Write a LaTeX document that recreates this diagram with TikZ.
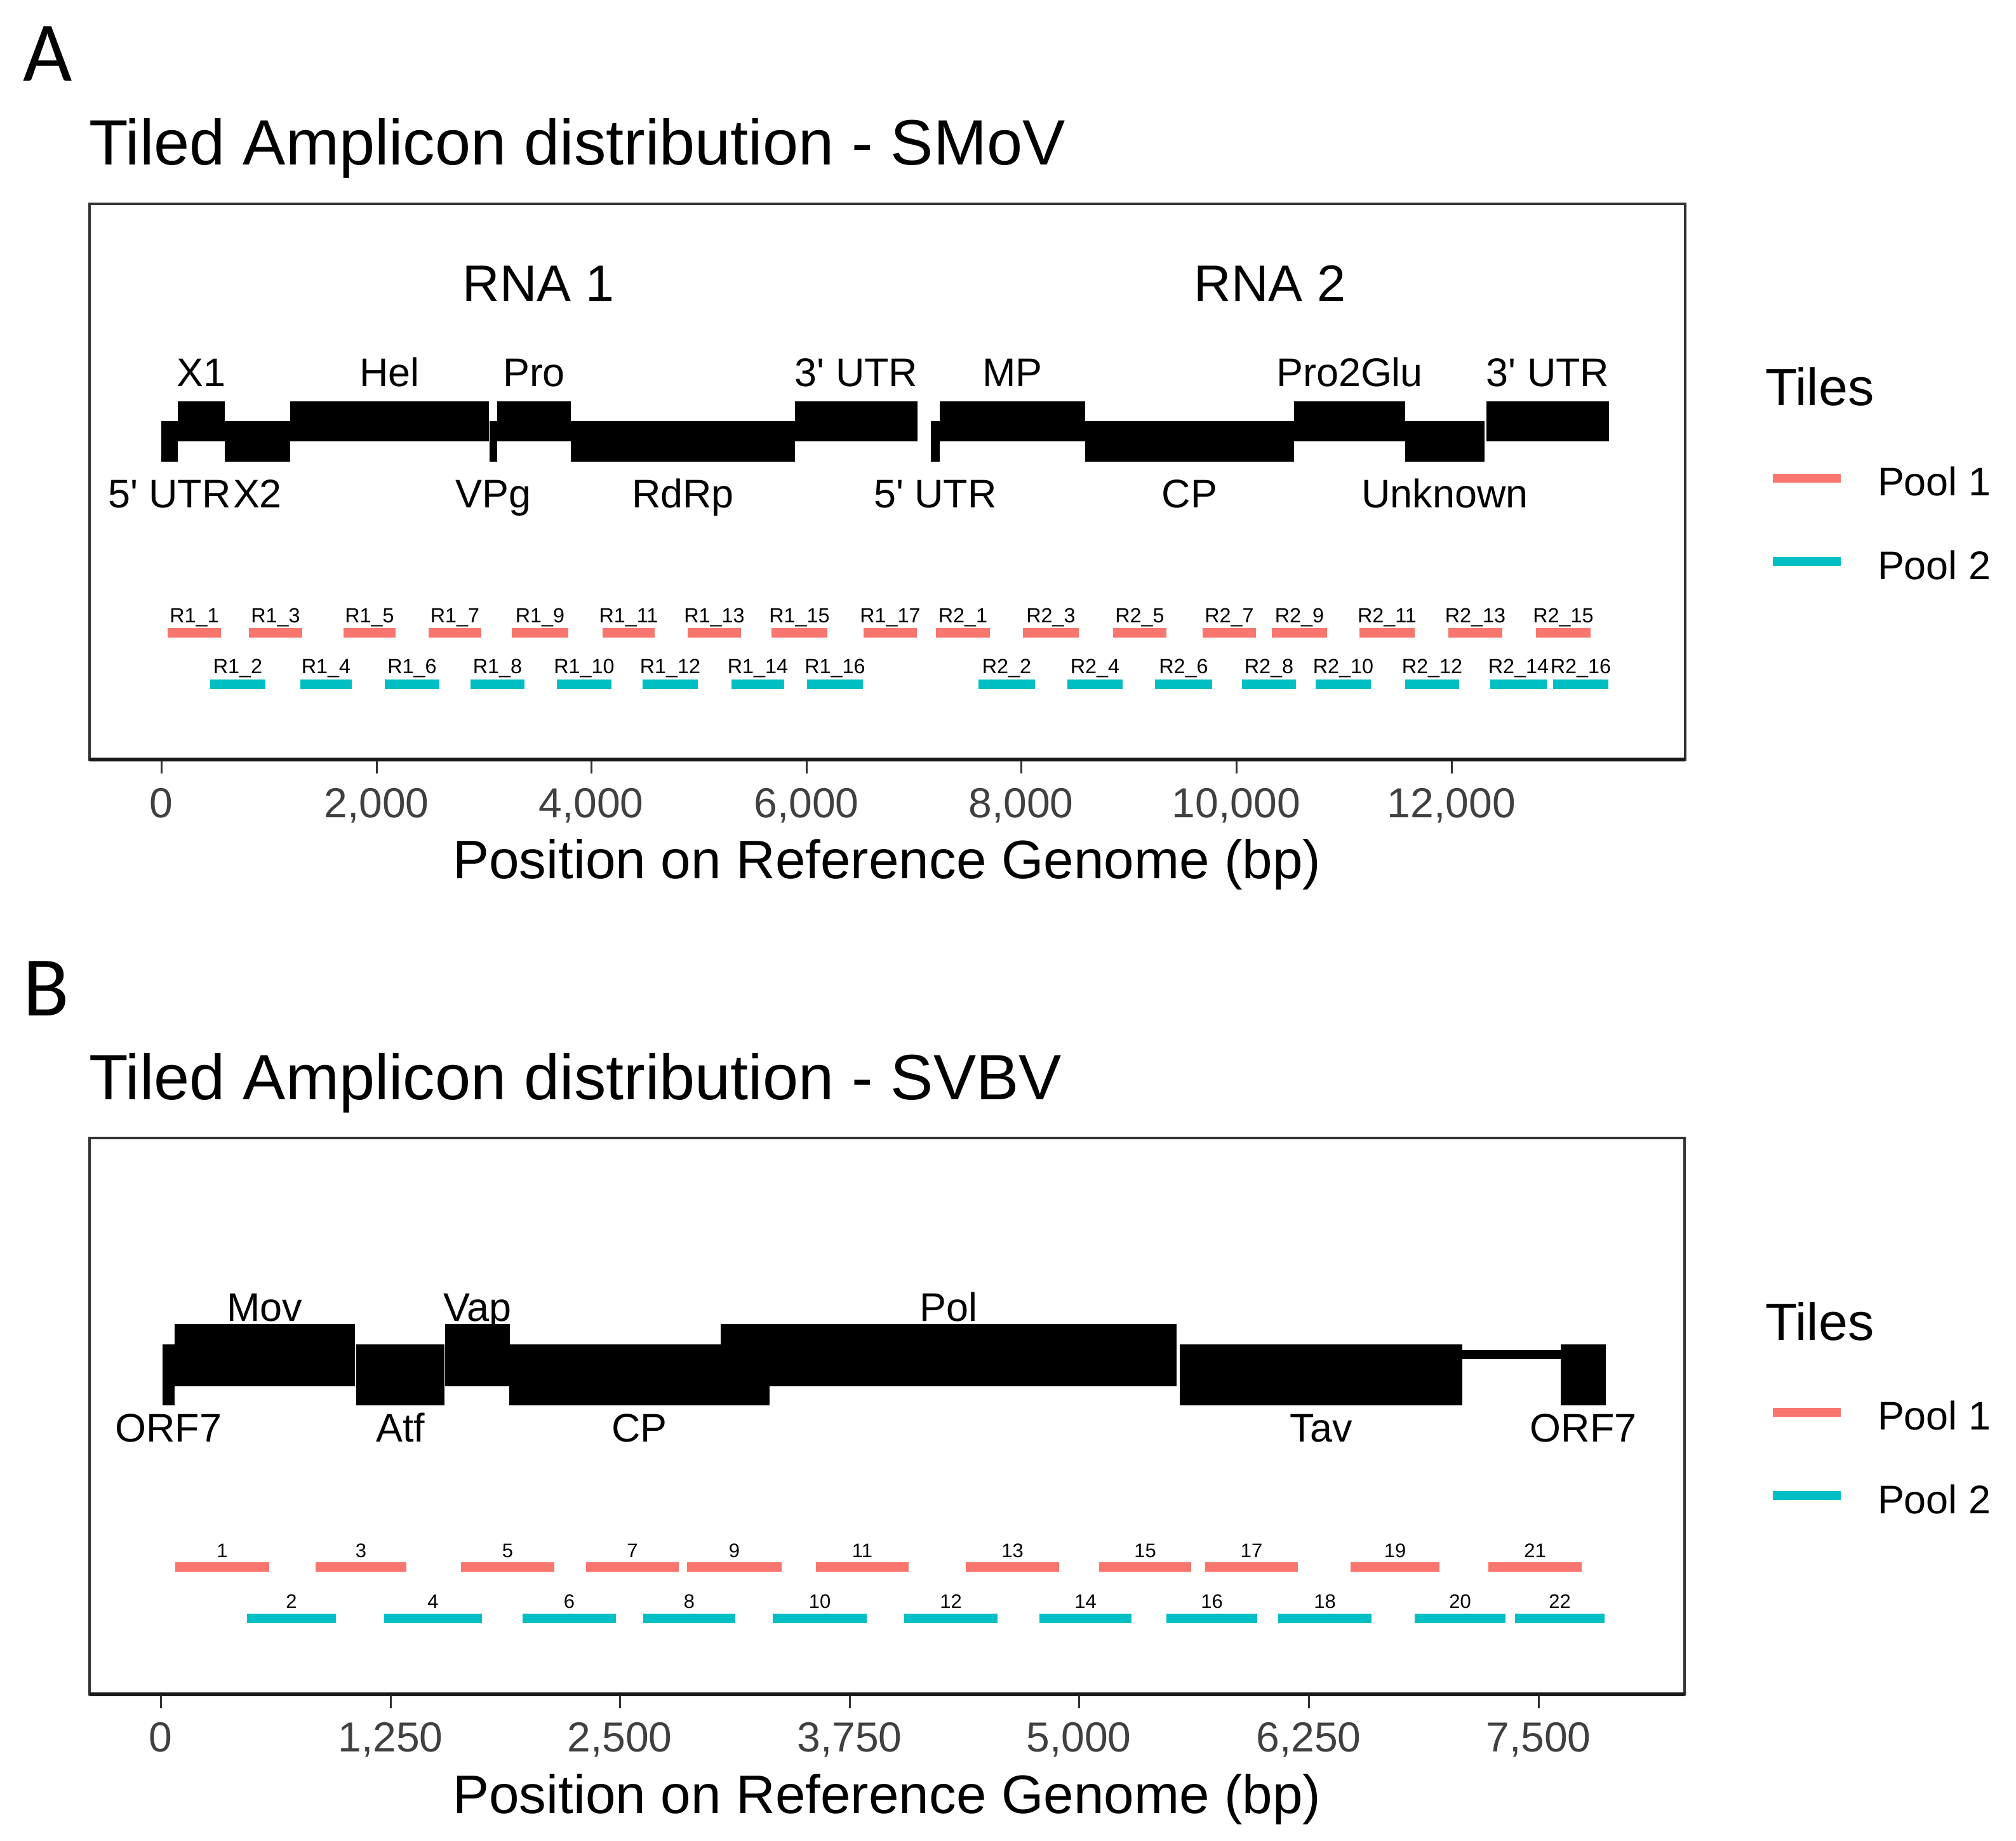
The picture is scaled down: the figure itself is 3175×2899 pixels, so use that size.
\documentclass[tikz,border=0pt]{standalone}
\usepackage{fontspec}
\setmainfont{Liberation Sans}
\newfontfamily\letterfont{Carlito}
\usetikzlibrary{positioning}

\definecolor{poolred}{HTML}{F8766D}
\definecolor{poolcyan}{HTML}{00BFC4}
\definecolor{framegrey}{HTML}{333333}

\tikzset{
  every node/.style={inner sep=0pt, outer sep=0pt},
  panelletter/.style={anchor=base west, font=\letterfont\fontsize{38}{44}\selectfont},
  plottitle/.style={anchor=base west, font=\fontsize{28.7}{34}\selectfont},
  rnalab/.style={anchor=base, font=\fontsize{23}{28}\selectfont},
  genelab/.style={anchor=base, font=\fontsize{17.9}{21}\selectfont},
  genebox/.style={fill=black},
  tilelab/.style={anchor=base, font=\fontsize{9.2}{11}\selectfont},
  tilenum/.style={anchor=base, font=\fontsize{8.8}{10}\selectfont},
  poolone/.style={fill=poolred},
  pooltwo/.style={fill=poolcyan},
  panelframe/.style={draw=framegrey, line width=0.4mm},
  axisline/.style={draw=black!90, line width=0.6mm},
  tickmark/.style={draw=framegrey, line width=0.3mm},
  ticklab/.style={anchor=base, font=\fontsize{18.8}{22}\selectfont, text=black!75},
  axistitle/.style={anchor=base, font=\fontsize{24.3}{29}\selectfont},
  legtitle/.style={anchor=base west, font=\fontsize{23.5}{28}\selectfont},
  legtext/.style={anchor=base west, font=\fontsize{17.9}{21}\selectfont},
  legkey/.style={line width=1.4mm}
}

\begin{document}
\begin{tikzpicture}[x=0.1mm, y=-0.1mm]
  \useasboundingbox (0,0) rectangle (3175,2899);

  % ---------------- panel A : SMoV ----------------
  \node (letterA) [panelletter] at (37,128) {A};
  \node (titleA) [plottitle] at (140,260) {Tiled Amplicon distribution - SMoV};
  \draw[panelframe] (141,321) rectangle (2654,1196);
  \node (rna1) [rnalab] at (848,475) {RNA 1};
  \node (rna2) [rnalab] at (2000,475) {RNA 2};

  % genes, upper row
  \foreach \a/\b/\g [count=\i] in {280/354/X1, 457/770/Hel, 783/899/Pro, 1252/1445/{3\textquotesingle{} UTR},
      1480/1709/MP, 2038/2213/Pro2Glu, 2341/2534/{3\textquotesingle{} UTR}} {
    \fill[genebox] (\a,632) rectangle (\b,695);
    \node (ga-up-\i) [genelab] at ({(\a+\b)/2},609) {\g};
  }
  % genes, lower row
  \foreach \a/\b/\g [count=\i] in {254/280/{5\textquotesingle{} UTR}, 354/457/X2, 771/783/VPg, 899/1252/RdRp,
      1466/1480/{5\textquotesingle{} UTR}, 1709/2038/CP, 2213/2338/Unknown} {
    \fill[genebox] (\a,663) rectangle (\b,727);
    \node (ga-low-\i) [genelab] at ({(\a+\b)/2},800) {\g};
  }

  % tiles
  \foreach \a/\b/\k in {264/348/1, 392/476/3, 541/623/5, 675/758/7, 806/895/9, 949/1031/11, 1083/1167/13,
      1215/1303/15, 1360/1444/17} {
    \fill[poolone] (\a,989) rectangle (\b,1004);
    \node (ta-r1-\k) [tilelab] at ({(\a+\b)/2},980) {R1\_\k};
  }
  \foreach \a/\b/\k in {331/418/2, 473/554/4, 606/692/6, 741/826/8, 877/963/10, 1012/1099/12, 1152/1235/14,
      1271/1359/16} {
    \fill[pooltwo] (\a,1070) rectangle (\b,1085);
    \node (ta-r1-\k) [tilelab] at ({(\a+\b)/2},1060) {R1\_\k};
  }
  \foreach \a/\b/\k in {1474/1559/1, 1611/1699/3, 1753/1837/5, 1894/1978/7, 2003/2090/9, 2141/2228/11,
      2281/2366/13, 2419/2505/15} {
    \fill[poolone] (\a,989) rectangle (\b,1004);
    \node (ta-r2-\k) [tilelab] at ({(\a+\b)/2},980) {R2\_\k};
  }
  \foreach \a/\b/\k in {1541/1630/2, 1681/1768/4, 1819/1909/6, 1956/2041/8, 2072/2159/10, 2213/2298/12,
      2347/2436/14, 2446/2533/16} {
    \fill[pooltwo] (\a,1070) rectangle (\b,1085);
    \node (ta-r2-\k) [tilelab] at ({(\a+\b)/2},1060) {R2\_\k};
  }

  % x axis
  \draw[axisline] (141,1196) -- (2654,1196);
  \foreach \x/\lab [count=\i] in {254/0, 593/{2,000}, 931/{4,000}, 1270/{6,000}, 1608/{8,000},
      1947/{10,000}, 2286/{12,000}} {
    \draw[tickmark] (\x,1198) -- (\x,1218);
    \node (tka-\i) [ticklab] at (\x,1287) {\lab};
  }
  \node (xtitleA) [axistitle] at (1397,1383) {Position on Reference Genome (bp)};

  % legend
  \node (tilesA) [legtitle] at (2780,639) {Tiles};
  \draw[legkey, poolred] (2792,753) -- (2899,753);
  \node (poolA1) [legtext] at (2957,780) {Pool 1};
  \draw[legkey, poolcyan] (2792,884) -- (2899,884);
  \node (poolA2) [legtext] at (2957,912) {Pool 2};

  % ---------------- panel B : SVBV ----------------
  \begin{scope}[shift={(0,1471)}]
    \node (letterB) [panelletter] at (37,128) {B};
    \node (titleB) [plottitle] at (140,260) {Tiled Amplicon distribution - SVBV};
    \draw[panelframe] (141,321) rectangle (2653,1197);

    % genes
    \fill[genebox] (2303,655) rectangle (2458,669);
    \foreach \a/\b/\g [count=\i] in {275/559/Mov, 701/803/Vap, 1135/1853/Pol} {
      \fill[genebox] (\a,614) rectangle (\b,712);
      \node (gb-up-\i) [genelab] at ({(\a+\b)/2},609) {\g};
    }
    \foreach \a/\b/\g [count=\i] in {256/275/ORF7, 561/700/Atf, 802/1212/CP, 1858/2303/Tav, 2458/2529/ORF7} {
      \fill[genebox] (\a,646) rectangle (\b,742);
      \node (gb-low-\i) [genelab] at ({(\a+\b)/2},799) {\g};
    }

    % tiles
    \foreach \a/\b/\k in {276/424/1, 497/640/3, 726/873/5, 923/1069/7, 1082/1231/9, 1285/1431/11,
        1521/1668/13, 1731/1876/15, 1898/2044/17, 2127/2267/19, 2344/2491/21} {
      \fill[poolone] (\a,989) rectangle (\b,1004);
      \node (tb-\k) [tilenum] at ({(\a+\b)/2},981) {\k};
    }
    \foreach \a/\b/\k in {389/529/2, 605/759/4, 823/970/6, 1013/1158/8, 1217/1365/10, 1424/1571/12,
        1637/1782/14, 1837/1980/16, 2013/2160/18, 2228/2371/20, 2386/2527/22} {
      \fill[pooltwo] (\a,1070) rectangle (\b,1085);
      \node (tb-\k) [tilenum] at ({(\a+\b)/2},1061) {\k};
    }

    % x axis
    \draw[axisline] (141,1197) -- (2653,1197);
    \foreach \x/\lab [count=\i] in {253/0, 615/{1,250}, 976/{2,500}, 1338/{3,750}, 1699/{5,000},
        2061/{6,250}, 2423/{7,500}} {
      \draw[tickmark] (\x,1199) -- (\x,1219);
      \node (tkb-\i) [ticklab] at (\x,1287) {\lab};
    }
    \node (xtitleB) [axistitle] at (1397,1384) {Position on Reference Genome (bp)};

    % legend
    \node (tilesB) [legtitle] at (2780,639) {Tiles};
    \draw[legkey, poolred] (2792,753) -- (2899,753);
    \node (poolB1) [legtext] at (2957,780) {Pool 1};
    \draw[legkey, poolcyan] (2792,884) -- (2899,884);
    \node (poolB2) [legtext] at (2957,912) {Pool 2};
  \end{scope}
\end{tikzpicture}
\end{document}
